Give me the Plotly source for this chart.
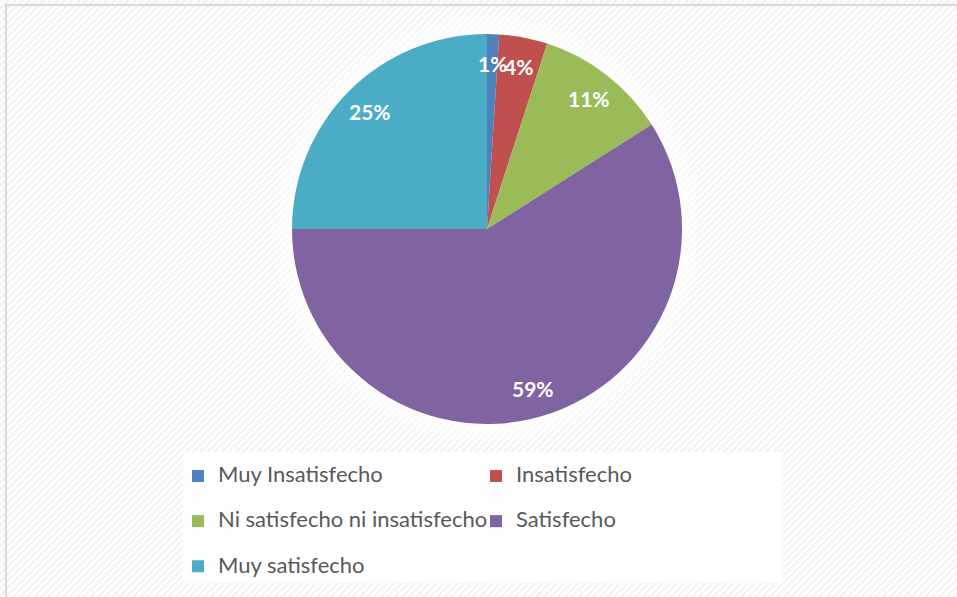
import math
import urllib.parse
import plotly.graph_objects as go

labels = ["Muy Insatisfecho", "Insatisfecho", "Ni satisfecho ni insatisfecho", "Satisfecho", "Muy satisfecho"]
values = [1, 4, 11, 59, 25]
colors = ["#4F81BD", "#C0504D", "#9BBB59", "#8064A2", "#4BACC6"]

W, H = 957, 597
L = 170
PW = 620
R = W - L - PW


def xp(px):
    return (px - L) / PW


def yp(py):
    return 1 - py / H


cx_px, cy_px, r_px = 487, 229, 195
dom_x = [xp(cx_px - r_px), xp(cx_px + r_px)]
dom_y = [yp(cy_px + r_px), yp(cy_px - r_px)]

svg = (
    "<svg xmlns='http://www.w3.org/2000/svg' width='957' height='597' viewBox='0 0 957 597'>"
    "<defs><pattern id='p' width='5' height='5' patternUnits='userSpaceOnUse' patternTransform='rotate(45)'>"
    "<rect width='5' height='5' fill='#ffffff'/><rect width='2.5' height='5' fill='#f2f2f2'/></pattern>"
    "<radialGradient id='g' cx='487' cy='229' r='222' gradientUnits='userSpaceOnUse'>"
    "<stop offset='0.85' stop-color='#ffffff' stop-opacity='1'/><stop offset='1' stop-color='#ffffff' stop-opacity='0'/></radialGradient></defs>"
    "<rect width='957' height='597' fill='url(#p)'/>"
    "<circle cx='487' cy='229' r='222' fill='url(#g)'/>"
    "<rect x='183' y='452' width='600' height='131' fill='#ffffff' fill-opacity='0.9'/>"
    "<rect x='6' y='5' width='960' height='600' fill='none' stroke='#d9d9d9' stroke-width='2'/>"
    "</svg>"
)
src = "data:image/svg+xml;charset=utf-8," + urllib.parse.quote(svg)

legend_names = [f"<span style='font-size:22px'>{lab}</span><br>" for lab in labels]

fig = go.Figure(go.Pie(
    labels=legend_names, values=values, sort=False, direction="clockwise", rotation=0,
    marker=dict(colors=colors, line=dict(color="#ffffff", width=0)),
    textinfo="none", hoverinfo="percent",
    domain=dict(x=dom_x, y=dom_y),
))

total = sum(values)
ann = []
cum = 0
for v in values:
    mid = (cum + v / 2) / total * 2 * math.pi
    cum += v
    rr = 0.85 * r_px
    ann.append(dict(x=xp(cx_px + rr * math.sin(mid)), y=yp(cy_px - rr * math.cos(mid)),
                    xref="paper", yref="paper", showarrow=False,
                    xanchor="center", yanchor="middle",
                    text=f"{round(v / total * 100)}%",
                    font=dict(family="Lato, Carlito, sans-serif", size=21, color="#ffffff", weight="bold")))

fig.update_layout(
    width=W, height=H,
    margin=dict(l=L, r=R, t=0, b=0, autoexpand=False),
    paper_bgcolor="#ffffff", plot_bgcolor="#ffffff",
    images=[dict(source=src, xref="paper", yref="paper", x=xp(0), y=1, sizex=W / PW, sizey=1,
                 xanchor="left", yanchor="top", sizing="stretch", layer="below")],
    annotations=ann,
    showlegend=True,
    legend=dict(orientation="h", x=xp(178), y=yp(459), xanchor="left", yanchor="top",
                bgcolor="rgba(0,0,0,0)", entrywidth=298 / PW, entrywidthmode="fraction",
                valign="top",
                font=dict(family="Lato, Carlito, sans-serif", size=16.2, color="#595959"),
                itemwidth=30, traceorder="normal"),
)

fig.write_html("out.html", config={"displayModeBar": False},
               post_script="document.body.style.margin='0';")
